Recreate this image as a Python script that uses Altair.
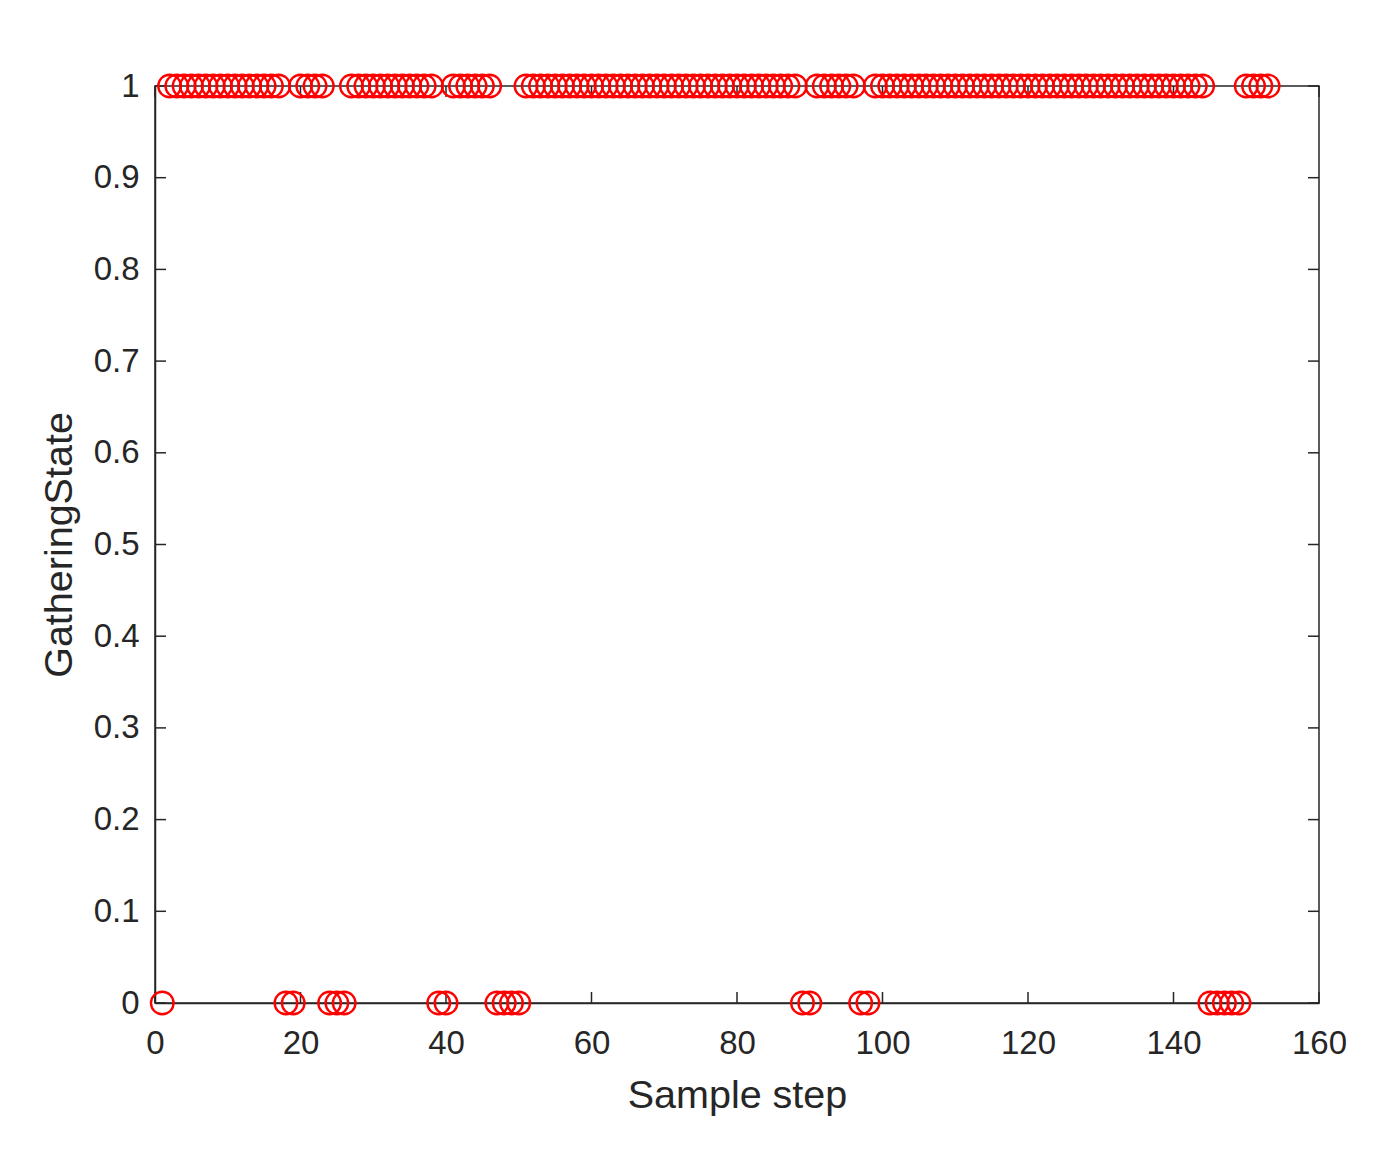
import altair as alt
import pandas as pd

# Sample steps and gathering state
steps = list(range(1, 154))
state = [
    0, 1, 1, 1, 1, 1, 1, 1, 1, 1,
    1, 1, 1, 1, 1, 1, 1, 0, 0, 1,
    1, 1, 1, 0, 0, 0, 1, 1, 1, 1,
    1, 1, 1, 1, 1, 1, 1, 1, 0, 0,
    1, 1, 1, 1, 1, 1, 0, 0, 0, 0,
    1, 1, 1, 1, 1, 1, 1, 1, 1, 1,
    1, 1, 1, 1, 1, 1, 1, 1, 1, 1,
    1, 1, 1, 1, 1, 1, 1, 1, 1, 1,
    1, 1, 1, 1, 1, 1, 1, 1, 0, 0,
    1, 1, 1, 1, 1, 1, 0, 0, 1, 1,
    1, 1, 1, 1, 1, 1, 1, 1, 1, 1,
    1, 1, 1, 1, 1, 1, 1, 1, 1, 1,
    1, 1, 1, 1, 1, 1, 1, 1, 1, 1,
    1, 1, 1, 1, 1, 1, 1, 1, 1, 1,
    1, 1, 1, 1, 0, 0, 0, 0, 0, 1,
    1, 1, 1,
]
x_ticks = [0, 20, 40, 60, 80, 100, 120, 140, 160]
y_ticks = [0, 0.1, 0.2, 0.3, 0.4, 0.5, 0.6, 0.7, 0.8, 0.9, 1]

W, H = 1164, 917
TICK = 11
AX = "#262626"
FONT = "Liberation Sans"
LABEL_SIZE = 33
TITLE_SIZE = 39.5

df = pd.DataFrame({"step": steps, "state": state})
xt = pd.DataFrame({"v": x_ticks})
yt = pd.DataFrame({"v": y_ticks})

xscale = alt.Scale(domain=[0, 160], nice=False, zero=False)
yscale = alt.Scale(domain=[0, 1], nice=False, zero=False)

points = alt.Chart(df).mark_point(
    shape="circle", filled=False, size=510, strokeWidth=2.4, color="#FF0000", opacity=1
).encode(
    x=alt.X("step:Q", scale=xscale, axis=alt.Axis(
        values=x_ticks, title="Sample step", ticks=False, tickSize=0,
        labelPadding=50, labelBaseline="alphabetic", labelFontSize=LABEL_SIZE,
        titleFontSize=TITLE_SIZE, titleY=104, titleX=W / 2, titleBaseline="alphabetic",
        titleAlign="center", titleFontWeight="normal", grid=False,
        labelFlush=False,
    )),
    y=alt.Y("state:Q", scale=yscale, axis=alt.Axis(
        values=y_ticks, title="GatheringState", format="~g", ticks=False, tickSize=0,
        labelPadding=16, labelFontSize=LABEL_SIZE, labelBaseline="middle",
        titleFontSize=TITLE_SIZE, titleX=-84, titleY=H / 2, titleAngle=-90,
        titleBaseline="alphabetic", titleAlign="center", titleFontWeight="normal",
        grid=False, labelFlush=False,
    )),
)

rule_style = dict(color=AX, strokeWidth=1.5)
ytick_l = alt.Chart(yt).mark_rule(**rule_style).encode(
    y=alt.Y("v:Q", scale=yscale), x=alt.value(0), x2=alt.value(TICK))
ytick_r = alt.Chart(yt).mark_rule(**rule_style).encode(
    y=alt.Y("v:Q", scale=yscale), x=alt.value(W - TICK), x2=alt.value(W))
xtick_b = alt.Chart(xt).mark_rule(**rule_style).encode(
    x=alt.X("v:Q", scale=xscale), y=alt.value(H - TICK), y2=alt.value(H))
xtick_t = alt.Chart(xt).mark_rule(**rule_style).encode(
    x=alt.X("v:Q", scale=xscale), y=alt.value(0), y2=alt.value(TICK))

chart = alt.layer(ytick_l, ytick_r, xtick_b, xtick_t, points).properties(
    width=W, height=H,
    background="white",
    autosize=alt.AutoSizeParams(type="none"),
    padding={"left": 147, "top": 78, "right": 50, "bottom": 150},
).configure_view(
    stroke=AX, strokeWidth=1.5
).configure_axis(
    domainColor=AX, domainWidth=1.5, labelColor=AX, titleColor=AX,
    labelFont=FONT, titleFont=FONT,
)

chart.save("out.html", embed_options={"renderer": "svg", "actions": False})
